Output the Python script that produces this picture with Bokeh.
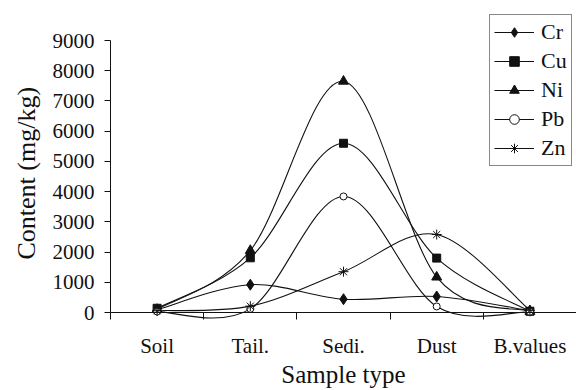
from bokeh.plotting import figure
from bokeh.models import (Range1d, FixedTicker, Legend, LegendItem, ColumnDataSource,
                          Span, Title)
from bokeh.embed import file_html
from bokeh.resources import INLINE

# ---- data ----
categories = ["Soil", "Tail.", "Sedi.", "Dust", "B.values"]
cr = [90, 920, 440, 530, 60]
cu = [140, 1810, 5600, 1800, 40]
ni = [100, 2050, 7650, 1170, 35]
pb = [30, 120, 3840, 200, 25]
zn = [60, 210, 1350, 2580, 70]
y_ticks = [0, 1000, 2000, 3000, 4000, 5000, 6000, 7000, 8000, 9000]
y_max = 9000

FONT = "Liberation Serif"
INK = "#111111"

x_pos = [i + 0.5 for i in range(len(categories))]


def smooth_source(xs, ys):
    """Bezier segments of a Catmull-Rom style smoothed line (as in office charts)."""
    n = len(xs)
    d = dict(x0=[], y0=[], x1=[], y1=[], cx0=[], cy0=[], cx1=[], cy1=[])
    for i in range(n - 1):
        a = max(i - 1, 0)
        b = min(i + 2, n - 1)
        d["x0"].append(xs[i]); d["y0"].append(ys[i])
        d["x1"].append(xs[i + 1]); d["y1"].append(ys[i + 1])
        d["cx0"].append(xs[i] + (xs[i + 1] - xs[a]) / 6.0)
        d["cy0"].append(ys[i] + (ys[i + 1] - ys[a]) / 6.0)
        d["cx1"].append(xs[i + 1] - (xs[b] - xs[i]) / 6.0)
        d["cy1"].append(ys[i + 1] - (ys[b] - ys[i]) / 6.0)
    return ColumnDataSource(d)


# layout: value axis 0..9000 occupies 272 px; frame extends 7 px below 0
# (room for the tick marks / curve dips) and 36 px above 9000 (room for legend)
px_per_unit = 272.0 / y_max
y_lo = -7 / px_per_unit
y_hi = y_max + 36 / px_per_unit

p = figure(width=576, height=390, output_backend="svg", toolbar_location=None,
           x_range=Range1d(0, len(categories)), y_range=Range1d(y_lo, y_hi),
           min_border_left=108, min_border_right=0, min_border_top=4,
           min_border_bottom=71)
p.outline_line_color = None
p.xgrid.grid_line_color = None
p.ygrid.grid_line_color = None
p.background_fill_color = "white"
p.border_fill_color = "white"

series = [
    ("Cr", cr, "diamond", 11, INK),
    ("Cu", cu, "square", 8, INK),
    ("Ni", ni, "triangle", 10, INK),
    ("Pb", pb, "circle", 7, "white"),
    ("Zn", zn, "asterisk", 10, INK),
]

items = []
for name, vals, marker, size, fill in series:
    src = smooth_source(x_pos, vals)
    br = p.bezier(x0="x0", y0="y0", x1="x1", y1="y1", cx0="cx0", cy0="cy0",
                  cx1="cx1", cy1="cy1", source=src, line_color=INK, line_width=1.1)
    sr = p.scatter(x=x_pos, y=vals, marker=marker, size=size, fill_color=fill,
                   line_color=INK, line_width=1)
    items.append(LegendItem(label=name, renderers=[br, sr]))

# category axis line at value 0
p.add_layout(Span(location=0, dimension="width", line_color=INK, line_width=1))

# x axis (ticks between categories, labels at centres)
xa = p.xaxis[0]
xa.ticker = FixedTicker(ticks=x_pos, minor_ticks=list(range(len(categories) + 1)))
xa.major_label_overrides = {x: c for x, c in zip(x_pos, categories)}
xa.axis_line_color = None
xa.major_tick_out = 0
xa.major_tick_in = 0
xa.major_tick_line_color = None
xa.minor_tick_out = 0
xa.minor_tick_in = 7
xa.minor_tick_line_color = INK
xa.major_label_standoff = 14
xa.major_label_text_font = FONT
xa.major_label_text_font_size = "21px"
xa.major_label_text_color = INK
xa.axis_label = "Sample type"
xa.axis_label_text_font = FONT
xa.axis_label_text_font_size = "25px"
xa.axis_label_text_font_style = "normal"
xa.axis_label_text_color = INK
xa.axis_label_standoff = 0

# y axis
ya = p.yaxis[0]
ya.bounds = (0, y_max)
ya.ticker = FixedTicker(ticks=y_ticks)
ya.major_tick_out = 6
ya.major_tick_in = 0
ya.minor_tick_line_color = None
ya.major_tick_line_color = INK
ya.axis_line_color = INK
ya.major_label_standoff = 10
ya.major_label_text_font = FONT
ya.major_label_text_font_size = "21px"
ya.major_label_text_color = INK

# y axis title, centred on the 0..9000 part of the axis
ytitle = Title(text="Content (mg/kg)", align="left", offset=60,
               vertical_align="bottom", standoff=18,
               text_font=FONT, text_font_size="26px", text_font_style="normal",
               text_color=INK)
p.add_layout(ytitle, "left")

legend = Legend(items=items, location=(379, 153))
legend.border_line_color = INK
legend.border_line_width = 1
legend.background_fill_color = "white"
legend.background_fill_alpha = 1
legend.label_text_font = FONT
legend.label_text_font_size = "22px"
legend.label_text_color = INK
legend.glyph_width = 40
legend.glyph_height = 24
legend.label_height = 24
legend.spacing = 3
legend.padding = 4
legend.margin = 0
legend.label_standoff = 7
p.add_layout(legend)

open("out.html", "w").write(file_html(p, INLINE))
